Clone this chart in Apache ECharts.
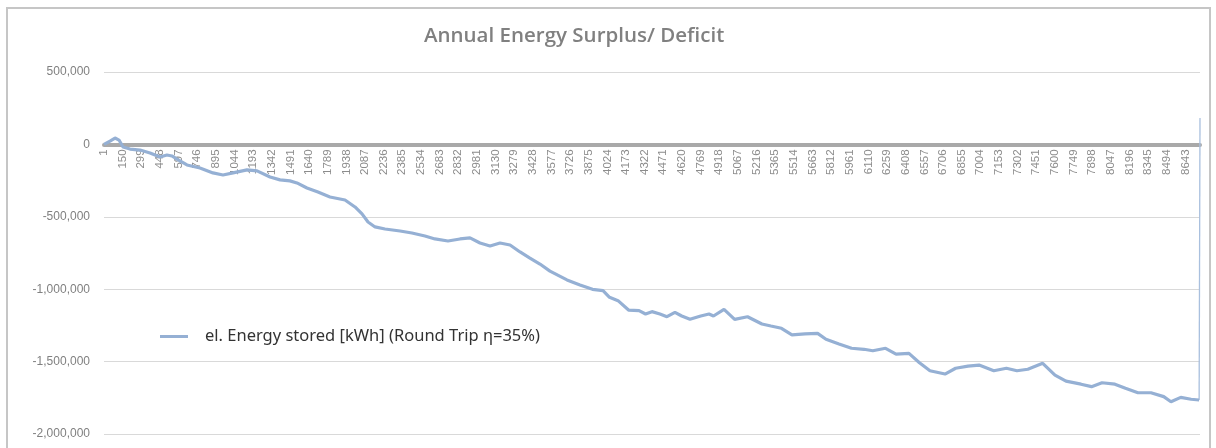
<!DOCTYPE html>
<html>
<head>
<meta charset="utf-8">
<script src="https://cdn.jsdelivr.net/npm/echarts@6/dist/echarts.min.js"></script>
<style>
  html, body { margin: 0; padding: 0; background: #ffffff; }
  #chart { width: 1216px; height: 448px; }
</style>
</head>
<body>
<div id="chart"></div>
<script>
// Hour of the year (1..8760) at which each reading of the storage balance was taken
const hours = [
  1, 49, 89, 121, 153, 209, 289, 369, 449, 504, 544, 584, 664, 768, 872, 952, 1032, 1144, 1224, 1328,
  1408, 1487, 1543, 1623, 1711, 1807, 1927, 2007, 2063, 2111, 2167, 2247, 2367, 2462, 2566, 2646, 2750, 2846, 2926, 3006,
  3086, 3166, 3246, 3326, 3405, 3485, 3565, 3701, 3805, 3905, 3989, 4041, 4109, 4193, 4277, 4329, 4380, 4444, 4500, 4564,
  4618, 4684, 4770, 4836, 4872, 4956, 5041, 5144, 5259, 5331, 5415, 5499, 5603, 5704, 5771, 5875, 5975, 6075, 6145, 6247,
  6331, 6434, 6518, 6602, 6722, 6807, 6906, 6994, 7112, 7213, 7297, 7384, 7503, 7601, 7689, 7809, 7893, 7977, 8080, 8164,
  8264, 8368, 8470, 8528, 8606, 8689, 8753
];

// Cumulative electrical energy stored [kWh] at those hours
const storedKWh = [
  0, 23000, 44000, 30000, -18000, -32000, -39000, -59000, -87000, -73000, -80000, -101000, -142000, -163000, -197000, -211000, -197000, -176000, -183000, -225000,
  -245000, -252000, -266000, -301000, -329000, -363000, -384000, -432000, -480000, -536000, -570000, -584000, -598000, -612000, -633000, -653000, -667000, -653000, -646000, -681000,
  -702000, -681000, -695000, -743000, -785000, -826000, -875000, -936000, -971000, -1001000, -1010000, -1056000, -1079000, -1144000, -1148000, -1171000, -1155000, -1171000, -1190000, -1160000,
  -1185000, -1208000, -1185000, -1171000, -1185000, -1139000, -1208000, -1190000, -1240000, -1254000, -1270000, -1316000, -1309000, -1305000, -1346000, -1378000, -1408000, -1415000, -1425000, -1408000,
  -1448000, -1443000, -1508000, -1563000, -1586000, -1546000, -1531000, -1524000, -1563000, -1546000, -1563000, -1553000, -1512000, -1593000, -1635000, -1656000, -1673000, -1646000, -1656000, -1684000,
  -1715000, -1715000, -1742000, -1777000, -1747000, -1760000, -1765000
];

// Closing reset of the balance at the end of the year
const closingHours = [8753, 8760];
const closingKWh = [-1765000, 182000];

// Hour-of-year categories and y-axis ticks
const HOURS_IN_YEAR = 8760;
const categories = Array.from({ length: HOURS_IN_YEAR }, (_, i) => String(i + 1));
const labelEvery = 149;
const yTicks = [-2000000, -1500000, -1000000, -500000, 0, 500000];

const seriesName = 'el. Energy stored [kWh] (Round Trip \u03b7=35%)';
const lineColor = '#95b0d4';

// Plot box
const GRID = { left: 104, right: 16, top: 72, bottom: 14 };
const plotH = 448 - GRID.top - GRID.bottom;
const yMin = yTicks[0], yMax = yTicks[yTicks.length - 1];
// The hour axis (line + labels) sits on the zero level of the value axis
const zeroFromBottom = plotH * (0 - yMin) / (yMax - yMin);

const chart = echarts.init(document.getElementById('chart'), null, { renderer: 'canvas' });

const toPairs = (hs, vs) => hs.map((h, i) => [h - 1, vs[i]]);

chart.setOption({
  animation: false,
  backgroundColor: '#ffffff',
  title: {
    text: 'Annual Energy Surplus/ Deficit',
    left: 419,
    top: 21,
    textStyle: {
      fontFamily: 'Open Sans',
      fontWeight: 600,
      fontSize: 20.5,
      color: '#808080'
    }
  },
  legend: {
    data: [seriesName],
    left: 155,
    top: 323,
    icon: 'rect',
    itemWidth: 28,
    itemHeight: 3,
    itemGap: 10,
    textStyle: {
      fontFamily: 'Noto Sans',
      fontSize: 16.5,
      color: '#333333',
      padding: [0, 0, 0, 12]
    }
  },
  grid: {
    left: GRID.left,
    right: GRID.right,
    top: GRID.top,
    bottom: GRID.bottom,
    containLabel: false
  },
  xAxis: {
    type: 'category',
    data: categories,
    boundaryGap: false,
    position: 'bottom',
    offset: -zeroFromBottom,
    axisLine: { onZero: false, lineStyle: { color: '#a9a9a9', width: 4 } },
    axisTick: { show: false },
    axisLabel: {
      interval: labelEvery - 1,
      rotate: 90,
      margin: 5,
      fontFamily: 'Liberation Sans',
      fontSize: 11.5,
      color: '#8c8c8c'
    },
    splitLine: { show: false }
  },
  yAxis: {
    type: 'value',
    min: yMin,
    max: yMax,
    interval: 500000,
    axisLine: { show: false },
    axisTick: { show: false },
    axisLabel: {
      margin: 14,
      fontFamily: 'Liberation Sans',
      fontSize: 12,
      color: '#808080',
      formatter: v => v.toLocaleString('en-US')
    },
    splitLine: { lineStyle: { color: '#d9d9d9', width: 1 } }
  },
  series: [
    {
      name: seriesName,
      type: 'line',
      data: toPairs(hours, storedKWh),
      showSymbol: false,
      symbol: 'none',
      lineStyle: { color: lineColor, width: 3.2 },
      itemStyle: { color: lineColor },
      z: 3
    },
    {
      name: 'closing',
      type: 'line',
      data: toPairs(closingHours, closingKWh),
      showSymbol: false,
      symbol: 'none',
      lineStyle: { color: '#a9c0de', width: 1.3 },
      z: 2
    }
  ],
  graphic: [
    {
      type: 'rect',
      shape: { x: 7, y: 8, width: 1203, height: 460 },
      style: { fill: 'none', stroke: '#c6c6c6', lineWidth: 2 },
      silent: true
    }
  ]
});
</script>
</body>
</html>
